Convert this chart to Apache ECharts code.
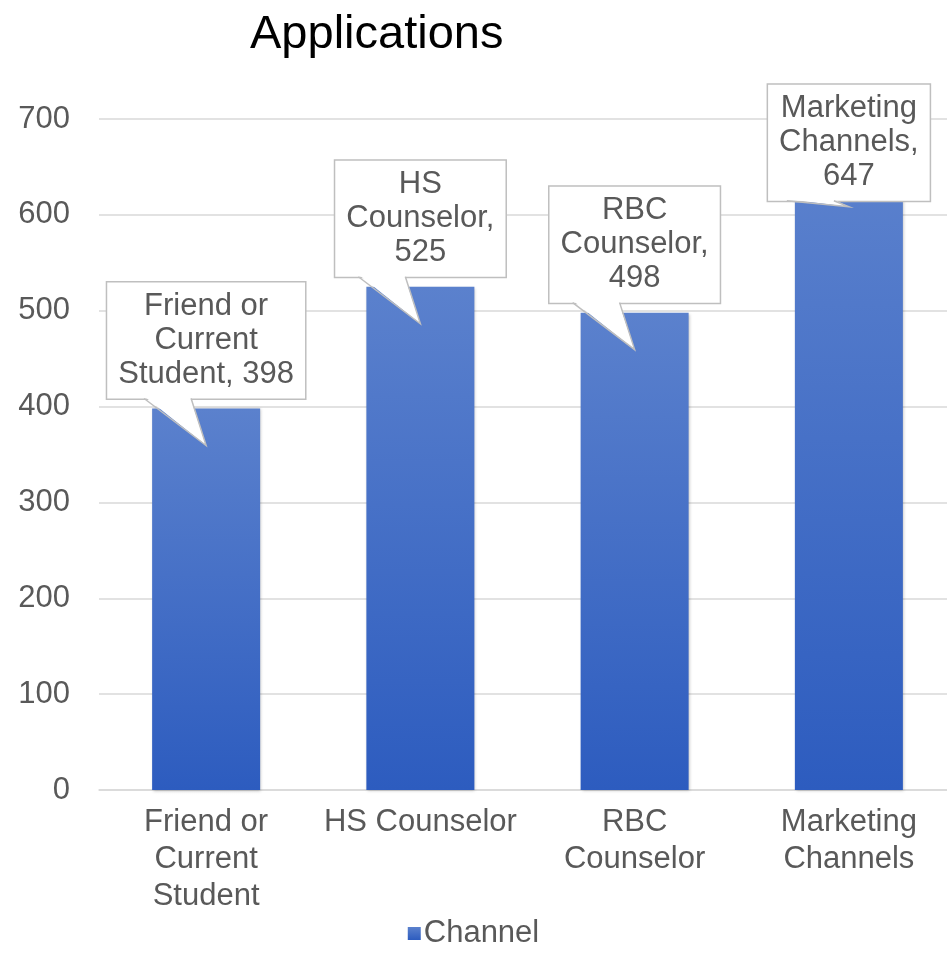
<!DOCTYPE html>
<html>
<head>
<meta charset="utf-8">
<script src="https://cdn.jsdelivr.net/npm/echarts@6/dist/echarts.min.js"></script>
<style>
html,body{margin:0;padding:0;background:#fff;}
#main{width:947px;height:970px;}
</style>
</head>
<body>
<div id="main"></div>
<script>
// ---- data ----
var categories = ['Friend or Current Student', 'HS Counselor', 'RBC Counselor', 'Marketing Channels'];
var categoryLabels = ['Friend or\nCurrent\nStudent', 'HS Counselor', 'RBC\nCounselor', 'Marketing\nChannels'];
var applications = [398, 525, 498, 647];
var calloutNames = ['Friend or\nCurrent\nStudent, ', 'HS\nCounselor,\n', 'RBC\nCounselor,\n', 'Marketing\nChannels,\n'];
var yTicks = {min: 0, max: 700, interval: 100};
var seriesName = 'Channel';

// ---- style ----
var FONT = '"Liberation Sans", Arial, sans-serif';
var TXT = '#595959';
var GRIDC = '#d9d9d9';
var BORDER = '#bfbfbf';
var LABEL_DIST = 10;
var LABEL_OFFSETS = [0, 0, 0, 41]; // vertical shift of callout box (last one pushed down inside plot)
var TIP_DEPTH = 37;

var chart = echarts.init(document.getElementById('main'), null, {renderer: 'canvas'});

var barData = applications.map(function (v, i) {
  return {
    value: v,
    label: {offset: [0, LABEL_OFFSETS[i]]}
  };
});

var option = {
  backgroundColor: '#fff',
  animation: false,
  title: {
    text: 'Applications',
    left: 245,
    top: 7,
    textStyle: {fontFamily: FONT, fontSize: 47, fontWeight: 'normal', color: '#000'}
  },
  legend: {
    data: [seriesName],
    left: 'center',
    top: 913,
    icon: 'rect',
    itemWidth: 13,
    itemHeight: 13,
    itemGap: 4,
    textStyle: {fontFamily: FONT, fontSize: 31, color: TXT, padding: [0, 0, 0, -2]}
  },
  grid: {left: 99, right: -9, top: 119, bottom: 180, containLabel: false, outerBoundsMode: 'none'},
  xAxis: {
    type: 'category',
    data: categories,
    axisLine: {show: true, lineStyle: {color: GRIDC, width: 1.5}},
    axisTick: {show: false},
    axisLabel: {
      interval: 0,
      margin: 14,
      fontFamily: FONT,
      fontSize: 31,
      lineHeight: 37,
      color: TXT,
      formatter: function (v, i) { return categoryLabels[i]; }
    }
  },
  yAxis: {
    type: 'value',
    min: yTicks.min,
    max: yTicks.max,
    interval: yTicks.interval,
    axisLine: {show: false},
    axisTick: {show: false},
    splitLine: {lineStyle: {color: GRIDC, width: 1.5}},
    axisLabel: {margin: 29, fontFamily: FONT, fontSize: 31, color: TXT}
  },
  series: [{
    name: seriesName,
    type: 'bar',
    data: barData,
    barWidth: 108,
    itemStyle: {
      color: new echarts.graphic.LinearGradient(0, 0, 0, 1, [
        {offset: 0, color: '#5B81CD'},
        {offset: 1, color: '#2D5CBF'}
      ]),
      shadowColor: 'rgba(0,0,0,0.25)',
      shadowBlur: 3,
      shadowOffsetX: 1,
      shadowOffsetY: 1
    },
    label: {
      show: true,
      position: 'top',
      distance: LABEL_DIST,
      fontFamily: FONT,
      fontSize: 31,
      lineHeight: 34,
      color: TXT,
      align: 'center',
      backgroundColor: '#fff',
      borderColor: BORDER,
      borderWidth: 1.5,
      padding: [7, 11, 7, 11],
      formatter: function (p) { return calloutNames[p.dataIndex] + p.value; }
    }
  }]
};

chart.setOption(option);

// callout pointers, positioned via the chart's own scales
function drawPointers() {
  var els = [];
  applications.forEach(function (v, i) {
    var top = chart.convertToPixel({seriesIndex: 0}, [i, v]);
    var cx = top[0];
    var boxBottom = top[1] - LABEL_DIST + LABEL_OFFSETS[i];
    var tip = [cx, top[1] + TIP_DEPTH];
    var b1 = [cx - 62, boxBottom];
    var b2 = [cx - 15, boxBottom];
    els.push({
      type: 'polygon',
      z: 100,
      shape: {points: [[b1[0] + 1, boxBottom - 1.5], [b2[0] - 1, boxBottom - 1.5], tip]},
      style: {fill: '#fff', stroke: null}
    });
    els.push({
      type: 'polyline',
      z: 101,
      shape: {points: [b1, tip, b2]},
      style: {stroke: BORDER, lineWidth: 1.5, fill: null}
    });
  });
  chart.setOption({graphic: {elements: els}});
}
drawPointers();
</script>
</body>
</html>
